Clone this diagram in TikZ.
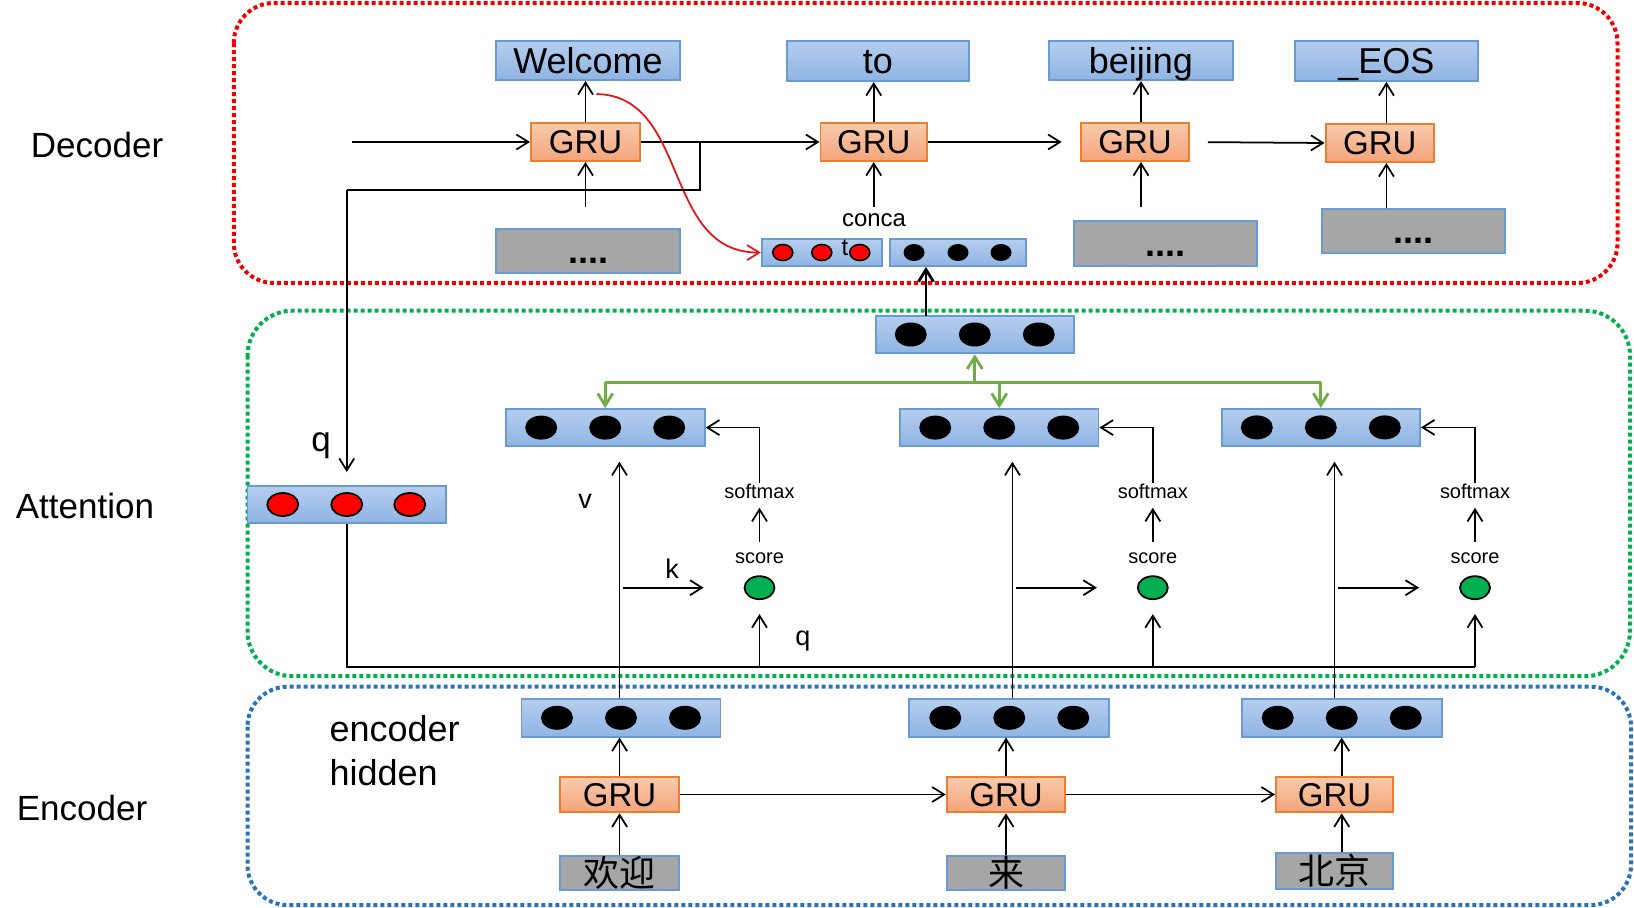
\documentclass[tikz,border=0pt]{standalone}
\usepackage{fontspec}
\setmainfont{Liberation Sans}
\newfontfamily\cjkfont{Noto Sans CJK SC}
\usetikzlibrary{arrows.meta,calc,shapes.geometric}

\definecolor{boxblue}{HTML}{6A9AD2}
\definecolor{bluetop}{HTML}{B5CEEE}
\definecolor{bluebot}{HTML}{8FB4E3}
\definecolor{grutop}{HTML}{F8CBAD}
\definecolor{grubot}{HTML}{F4A47A}
\definecolor{gruedge}{HTML}{ED7D31}
\definecolor{grayfill}{HTML}{A6A6A6}
\definecolor{reddash}{HTML}{F00000}
\definecolor{greendash}{HTML}{00B050}
\definecolor{bluedash}{HTML}{2A72BA}
\definecolor{garrowc}{HTML}{70AD47}
\definecolor{dotred}{HTML}{FF0000}
\definecolor{dotgreen}{HTML}{00B050}
\definecolor{curvered}{HTML}{E3151B}

\newcommand\fsword{\fontsize{10.24pt}{12pt}\selectfont}
\newcommand\fslabel{\fontsize{9.96pt}{12pt}\selectfont}
\newcommand\fsgru{\fontsize{9.39pt}{11pt}\selectfont}
\newcommand\fssmall{\fontsize{5.69pt}{7pt}\selectfont}
\newcommand\fsconca{\fontsize{6.8pt}{8pt}\selectfont}
\newcommand\fskv{\fontsize{7.68pt}{9pt}\selectfont}

\tikzset{
  vecbox/.style={draw=boxblue, line width=0.55pt, top color=bluetop, bottom color=bluebot, inner sep=0pt, minimum height=3.7mm},
  wordbox/.style={vecbox, font=\fsword, text height=2.55mm, text depth=0pt},
  grubox/.style={draw=gruedge, line width=0.55pt, top color=grutop, bottom color=grubot, inner sep=0pt, minimum height=3.8mm, font=\fsgru, text height=2.3mm, text depth=0pt},
  graybox/.style={draw=boxblue, fill=grayfill, line width=0.55pt, inner sep=0pt, font=\fsword\bfseries, text height=2.5mm, text depth=0pt},
  cjkbox/.style={draw=boxblue, fill=grayfill, line width=0.55pt, inner sep=0pt, minimum height=3.43mm, font=\fsword\cjkfont},
  gdot/.style={ellipse, draw=black, fill=dotgreen, line width=0.5pt, minimum width=3mm, minimum height=2.3mm, inner sep=0pt},
  smalltext/.style={font=\fssmall, inner sep=0pt, anchor=base},
  kvtext/.style={font=\fskv, inner sep=0pt, anchor=base},
  sidelabel/.style={font=\fslabel, inner sep=0pt, anchor=base west},
  garrow/.style={draw=garrowc, line width=0.8pt},
  dashbox/.style={line width=0.4mm, dash pattern=on 0.4mm off 0.3mm},
}

\begin{document}
\begin{tikzpicture}[x=0.1mm, y=-0.1mm, >={Straight Barb[length=1.2mm,width=1.5mm]}, line width=0.5pt]
\useasboundingbox (0,0) rectangle (1634,908);

% dotted region frames
\draw[dashbox, draw=reddash, rounded corners=4mm] (233.8,3) rectangle (1617.5,283);
\draw[dashbox, draw=greendash, rounded corners=4.5mm] (247.5,310.7) rectangle (1630,676.2);
\draw[dashbox, draw=bluedash, rounded corners=4mm] (247.5,686.7) rectangle (1631,905);

% side labels
\node[sidelabel] (ldec) at (30,157.3) {Decoder};
\node[sidelabel] (latt) at (15,518) {Attention};
\node[sidelabel] (lenc) at (16,820) {Encoder};

% ---------------- decoder ----------------
\node[wordbox, minimum width=18.4mm, minimum height=3.9mm] (wel) at (588,60.5) {Welcome};
\node[wordbox, minimum width=18.2mm, minimum height=4.0mm] (to) at (877.8,61) {to};
\node[wordbox, minimum width=18.4mm, minimum height=3.9mm] (bei) at (1141,60.5) {beijing};
\node[wordbox, minimum width=18.3mm, minimum height=4.0mm] (eos) at (1386.4,61) {\_EOS};

\node[grubox, minimum width=10.9mm] (g1) at (585.5,142) {GRU};
\node[grubox, minimum width=10.65mm] (g2) at (873.75,142) {GRU};
\node[grubox, minimum width=10.86mm] (g3) at (1135,142) {GRU};
\node[grubox, minimum width=10.84mm] (g4) at (1379.8,143) {GRU};

\node[graybox, minimum width=18.4mm, minimum height=4.4mm] (d1) at (588,251) {....};
\node[graybox, minimum width=18.33mm, minimum height=4.5mm] (d3) at (1165.4,243.5) {....};
\node[graybox, minimum width=18.3mm, minimum height=4.4mm] (d4) at (1413.5,231) {....};

\node[vecbox, minimum width=12mm, minimum height=2.7mm] (catr) at (821.75,252.5) {};
\node[vecbox, minimum width=13.6mm, minimum height=2.7mm] (catb) at (958,252.5) {};
\foreach \dx in {-39,0,38}
  \filldraw[fill=dotred, draw=black, line width=0.45pt] ($(catr)+(\dx,0)$) ellipse [x radius=1.0mm, y radius=0.8mm];
\foreach \dx in {-44,0,43}
  \fill ($(catb)+(\dx,0)$) ellipse [x radius=1.05mm, y radius=0.85mm];
\node[font=\fsconca, inner sep=0pt, anchor=base] (conca) at (874,226.7) {conca};
\node[font=\fsconca, inner sep=0pt, anchor=base] (tlab) at (845,255) {t};

% decoder connectors
\coordinate (din) at (352,142);
\draw[->] (din) -- (g1.west);
\draw[->] (g1.north) -- (g1.north |- wel.south);
\coordinate (g1in) at (585.5,207);
\draw[->] (g1in) -- (g1.south);
\draw[->] (g1.east) -- (g2.west);
\draw[->] (g2.north) -- (g2.north |- to.south);
\coordinate (g2in) at (873.75,207);
\draw[->] (g2in) -- (g2.south);
\draw[->, shorten >=1.8mm] (g2.east) -- (g3.west);
\draw[->] (bei.south |- g3.north) -- (bei.south);
\coordinate (g3in) at (1141,207);
\draw[->] (g3in) -- (g3in |- g3.south);
\draw[->, shorten <=1.75mm] (g3.east) -- (g4.west);
\draw[->] (eos.south |- g4.north) -- (eos.south);
\coordinate (g4in) at (1386.4,208);
\draw[->] (g4in) -- (g4in |- g4.south);

% red curved arrow
\coordinate (rs) at (596.5,94);
\draw[->, draw=curvered, line width=0.5pt] (rs) .. controls (690,96) and (662,253) .. (catr.west);

% ---------------- attention ----------------
\node[vecbox, minimum width=19.85mm] (qv) at (346.75,504.5) {};
\node[vecbox, minimum width=19.84mm, minimum height=3.76mm] (ao) at (974.8,334.5) {};
\node[vecbox, minimum width=19.92mm] (a1) at (605.2,427.6) {};
\node[vecbox, minimum width=19.85mm] (a2) at (999.25,427.6) {};
\node[vecbox, minimum width=19.84mm] (a3) at (1320.8,427.4) {};

\foreach \dx in {-64,0,63}
  \filldraw[fill=dotred, draw=black, line width=0.5pt] ($(qv)+(\dx,0)$) ellipse [x radius=1.55mm, y radius=1.15mm];

\node[smalltext] (sm1) at (759.5,498.3) {softmax};
\node[smalltext] (sm2) at (1152.8,498.3) {softmax};
\node[smalltext] (sm3) at (1475,498.3) {softmax};
\node[smalltext] (sc1) at (759.5,563.8) {score};
\node[smalltext] (sc2) at (1152.8,563.8) {score};
\node[smalltext] (sc3) at (1475,563.8) {score};
\node[gdot] (gc1) at (759.5,587.7) {};
\node[gdot] (gc2) at (1152.8,587.7) {};
\node[gdot] (gc3) at (1475,587.7) {};

\node[kvtext] (klab) at (672,578.3) {k};
\node[kvtext] (vlab) at (585,508.3) {v};
\node[kvtext] (qlab2) at (803,645.7) {q};
\node[font=\fslabel, inner sep=0pt, anchor=base] (qlab1) at (321,451.7) {q};

% q from decoder
\coordinate (br) at (700,142);
\coordinate (qc) at (346.75,190);
\draw[line width=0.65pt] (br) -- (br |- qc) -- (qc);
\draw[->, shorten >=1.3mm] (qc) -- (qv.north);

% q to scores
\coordinate (qb) at (346.75,666.7);
\draw[line width=0.6pt] (qv.south) -- (qb) -- (qb -| gc3.south);
\foreach \g in {gc1,gc2,gc3}
  \draw[->, shorten >=1.4mm] (qb -| \g.south) -- (\g.south);

% score -> softmax -> weights
\foreach \i in {1,2,3} {
  \draw[->, shorten <=1mm, shorten >=0.84mm] (sc\i.north) -- (sm\i.south);
  \draw[->] (sm\i.north) -- (sm\i.north |- a\i.east) -- (a\i.east);
}

% k arrows
\coordinate (k1) at (623,587.7);
\coordinate (k2) at (1015.6,587.7);
\coordinate (k3) at (1337.7,587.7);
\foreach \i in {1,2,3}
  \draw[->, shorten >=4mm] (k\i) -- (gc\i.west);

% green combine arrows
\coordinate (gl) at (605.2,382.3);
\draw[garrow] (gl) -- (gl -| a3.north);
\draw[garrow, ->] (gl) -- (a1.north);
\draw[garrow, ->] (a2.north |- gl) -- (a2.north);
\draw[garrow, ->] (gl -| a3.north) -- (a3.north);
\draw[garrow, ->] (ao.south |- gl) -- (ao.south);

% attention output to concat
\coordinate (up) at (926,315.7);
\draw[->, line width=0.8pt] (up) -- (up |- catb.south);

% ---------------- encoder ----------------
\node[vecbox, minimum width=19.9mm, minimum height=3.75mm] (e1) at (621,717.8) {};
\node[vecbox, minimum width=20mm, minimum height=3.75mm] (e2) at (1009.3,717.8) {};
\node[vecbox, minimum width=20mm, minimum height=3.75mm] (e3) at (1341.7,717.8) {};

\foreach \n in {ao,a1,a2,a3,e1,e2,e3}
  \foreach \dx in {-64,0,64}
    \fill ($(\n)+(\dx,0)$) ellipse [x radius=1.6mm, y radius=1.2mm];

\node[grubox, minimum width=11.9mm, minimum height=3.56mm] (eg1) at (619.6,794.5) {GRU};
\node[grubox, minimum width=11.85mm, minimum height=3.56mm] (eg2) at (1006,794.5) {GRU};
\node[grubox, minimum width=11.7mm, minimum height=3.56mm] (eg3) at (1334.5,794.5) {GRU};
\node[cjkbox, minimum width=11.9mm] (w1) at (619.6,872.8) {欢迎};
\node[cjkbox, minimum width=11.85mm] (w2) at (1006,872.8) {来};
\node[cjkbox, minimum width=11.7mm, minimum height=3.54mm] (w3) at (1334.5,871) {北京};

\node[font=\fsword, inner sep=0pt, anchor=base west] (encl) at (328.8,741.7) {encoder};
\node[font=\fsword, inner sep=0pt, anchor=base west] (hidl) at (328.8,785) {hidden};

\draw[->] (w1.north) -- (eg1.south);
\draw[->] (eg1.north) -- (eg1.north |- e1.south);
\draw[->] (w2.north) -- (eg2.south);
\draw[->] (eg2.north) -- (eg2.north |- e2.south);
\draw[->] (w3.north -| e3.south) -- (eg3.south -| e3.south);
\draw[->] (eg3.north -| e3.south) -- (e3.south);
\draw[->] (eg1.east) -- (eg2.west);
\draw[->] (eg2.east) -- (eg3.west);

% v lines
\coordinate (v1) at (619.5,461.7);
\coordinate (v2) at (1012.4,461.7);
\coordinate (v3) at (1334.5,461.7);
\draw[->] (v1 |- e1.north) -- (v1);
\draw[->] (v2 |- e2.north) -- (v2);
\draw[->] (v3 |- e3.north) -- (v3);
\end{tikzpicture}
\end{document}
